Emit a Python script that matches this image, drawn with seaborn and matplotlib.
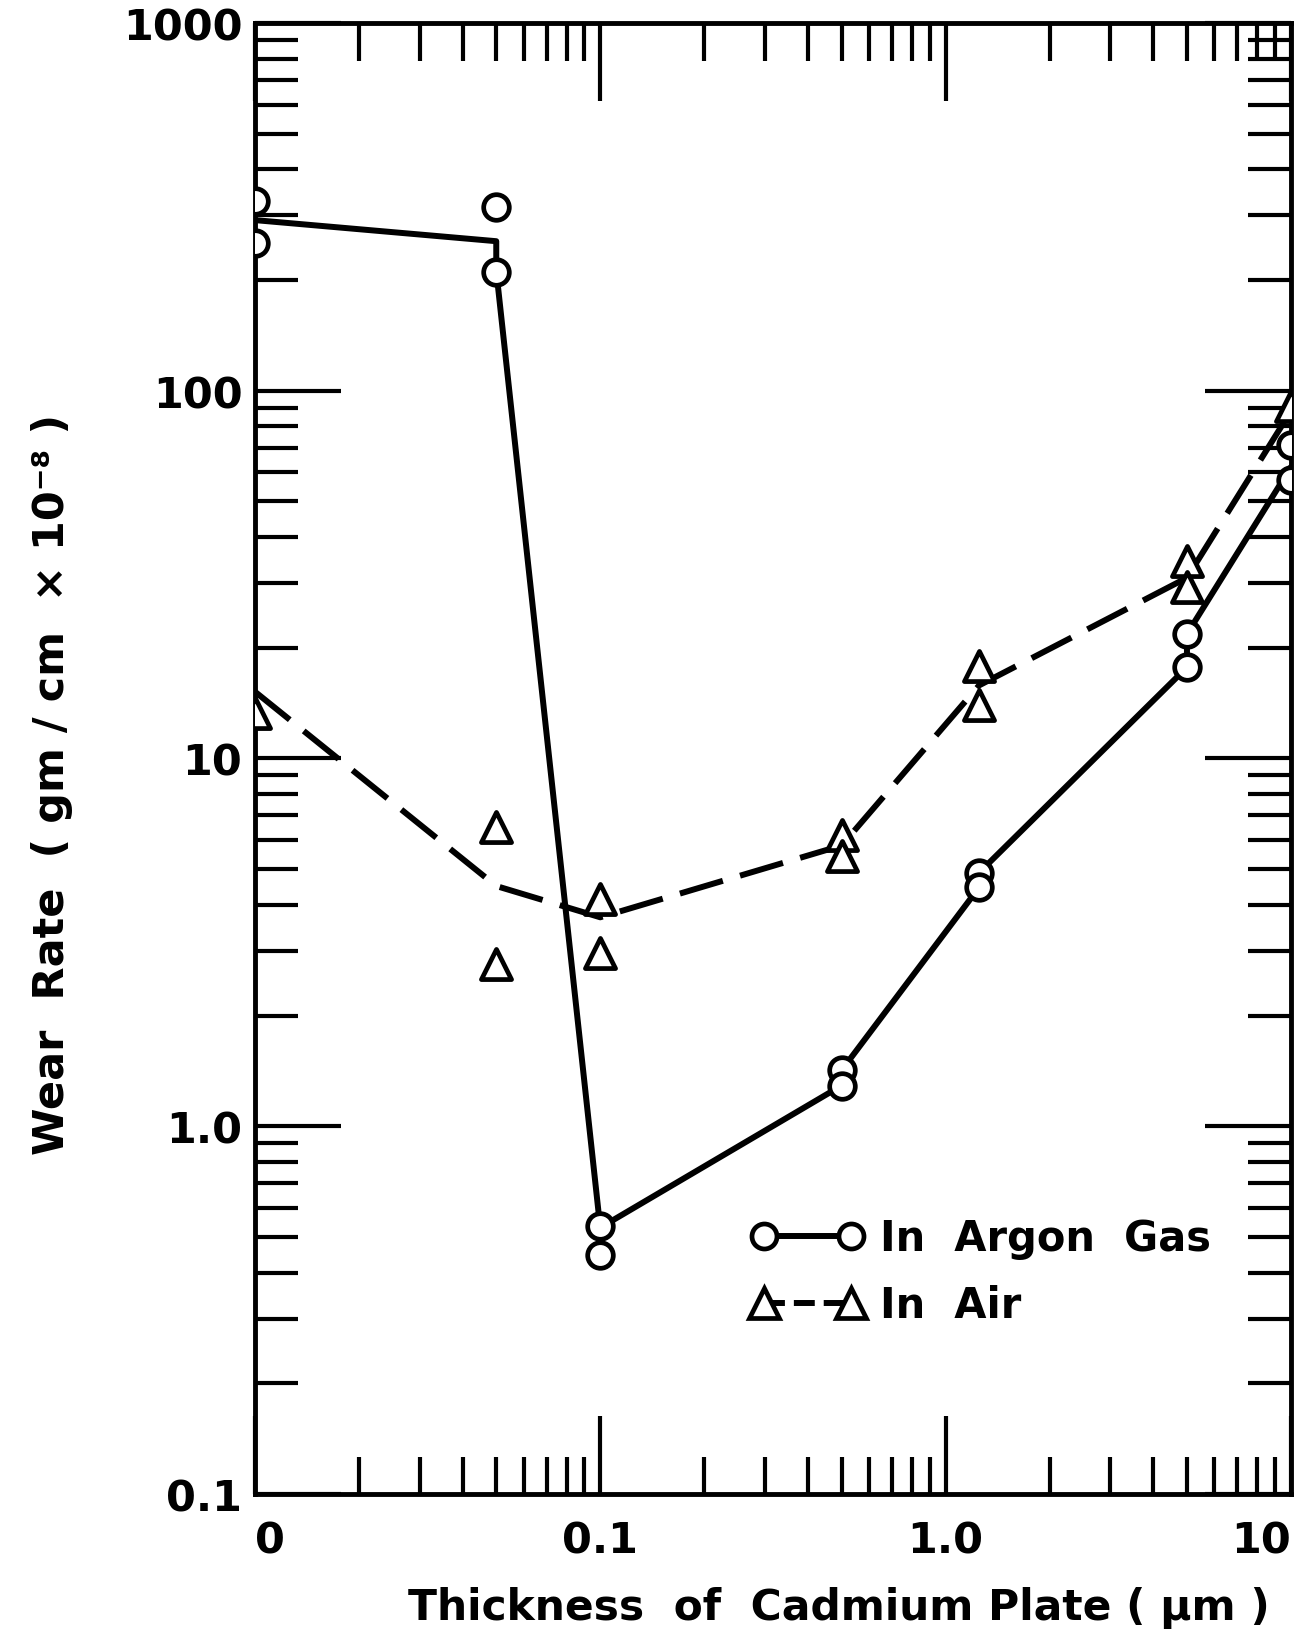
"""
Wear rate vs cadmium plate thickness, in argon gas and in air (log-log).
"""

import numpy as np
import pandas as pd
import seaborn as sns
import matplotlib.pyplot as plt
from matplotlib.lines import Line2D
from matplotlib.ticker import FixedLocator, NullFormatter

# measured points (x = 0 is plotted at 0.01 on the log axis)
argon_x = [0.01, 0.01, 0.05, 0.05, 0.1, 0.1, 0.5, 0.5, 1.25, 1.25, 5.0, 5.0, 10, 10]
argon_y = [328, 252, 316, 210, 0.536, 0.446, 1.42, 1.29, 4.89, 4.46, 21.8, 17.7, 71, 57]
air_x = [0.01, 0.05, 0.05, 0.1, 0.1, 0.5, 0.5, 1.25, 1.25, 5.0, 5.0, 10]
air_y = [13.3, 6.5, 2.77, 4.15, 2.95, 6.2, 5.43, 17.8, 14.0, 34.5, 29.3, 90.6]

# hand drawn curves
argon_line_x = [0.01, 0.05, 0.05, 0.1, 0.5, 0.5, 1.25, 1.25, 5.0, 5.0, 10]
argon_line_y = [291, 255, 212, 0.53, 1.29, 1.42, 4.46, 4.89, 17.7, 21.8, 62]
air_line_x = [0.01, 0.05, 0.1, 0.5, 1.25, 5.0, 10]
air_line_y = [15.2, 4.5, 3.7, 5.8, 15.8, 31, 88]

x_ticks = [0.01, 0.1, 1, 10]
x_tick_labels = ["0", "0.1", "1.0", "10"]
y_ticks = [0.1, 1, 10, 100, 1000]
y_tick_labels = ["0.1", "1.0", "10", "100", "1000"]


def main():
    sns.set_style("white")
    plt.rcParams["font.family"] = ["DejaVu Sans"]
    plt.rcParams["font.weight"] = "bold"
    for key in ("text.color", "axes.labelcolor", "xtick.color", "ytick.color"):
        plt.rcParams[key] = "black"

    fig = plt.figure(figsize=(13.07, 16.4), dpi=100)
    ax = fig.add_axes([0.195, 0.0884, 0.7927, 0.897])

    argon_line = pd.DataFrame({"x": argon_line_x, "y": argon_line_y})
    air_line = pd.DataFrame({"x": air_line_x, "y": air_line_y})
    sns.lineplot(data=argon_line, x="x", y="y", ax=ax, color="black",
                 linewidth=4.3, sort=False, estimator=None, zorder=2)
    sns.lineplot(data=air_line, x="x", y="y", ax=ax, color="black",
                 linewidth=4.3, sort=False, estimator=None, zorder=2,
                 linestyle=(0, (7.5, 3)))

    sns.scatterplot(x=argon_x, y=argon_y, ax=ax, marker="o", s=340,
                    facecolor="white", edgecolor="black", linewidth=3.4, zorder=3)
    sns.scatterplot(x=air_x, y=air_y, ax=ax, marker="^", s=470,
                    facecolor="white", edgecolor="black", linewidth=3.4, zorder=3)

    ax.set_xscale("log")
    ax.set_yscale("log")
    ax.set_xlim(0.01, 10)
    ax.set_ylim(0.1, 1000)

    minor_x = [m * d for d in (0.01, 0.1, 1) for m in range(2, 10)]
    minor_y = [m * d for d in (0.1, 1, 10, 100) for m in range(2, 10)]
    ax.xaxis.set_major_locator(FixedLocator(x_ticks))
    ax.xaxis.set_minor_locator(FixedLocator(minor_x))
    ax.yaxis.set_major_locator(FixedLocator(y_ticks))
    ax.yaxis.set_minor_locator(FixedLocator(minor_y))
    ax.set_xticklabels(x_tick_labels)
    ax.set_yticklabels(y_tick_labels)
    ax.xaxis.set_minor_formatter(NullFormatter())
    ax.yaxis.set_minor_formatter(NullFormatter())

    ax.tick_params(axis="both", which="both", direction="in", top=True,
                   right=True, bottom=True, left=True, width=3,
                   color="black", labelcolor="black", labelsize=31)
    ax.tick_params(axis="x", which="major", length=56, pad=18)
    ax.tick_params(axis="x", which="minor", length=27)
    ax.tick_params(axis="y", which="major", length=62, pad=9)
    ax.tick_params(axis="y", which="minor", length=31)

    xl = ax.get_xticklabels()
    xl[0].set_ha("left")
    xl[-1].set_ha("right")

    for side in ax.spines.values():
        side.set_linewidth(3.5)
        side.set_color("black")

    ax.set_xlabel("Thickness  of  Cadmium Plate ( \u03bcm )", fontsize=30.5,
                  fontweight="bold", va="center")
    ax.xaxis.set_label_coords(0.564, -0.077)
    ax.set_ylabel("Wear  Rate  ( gm / cm  \u00d7 10\u207b\u2078 )", fontsize=31,
                  fontweight="bold", va="center")
    ax.yaxis.set_label_coords(-0.196, 0.483)

    handles = [
        Line2D([], [], color="black", linewidth=4.3, marker="o", markersize=18,
               markerfacecolor="white", markeredgewidth=3.4),
        Line2D([], [], color="black", linewidth=4.3, linestyle=(0, (3.5, 1.5)),
               marker="^", markersize=21, markerfacecolor="white",
               markeredgewidth=3.4),
    ]
    ax.legend(handles, ["In  Argon  Gas", "In  Air"], loc="upper left",
              bbox_to_anchor=(0.479, 0.188), frameon=False, numpoints=2,
              fontsize=30, handlelength=2.7, handletextpad=0.4,
              labelspacing=0.6, borderpad=0, borderaxespad=0)

    plt.savefig("out.png", dpi=100, facecolor="white")
    plt.close()


if __name__ == "__main__":
    main()
